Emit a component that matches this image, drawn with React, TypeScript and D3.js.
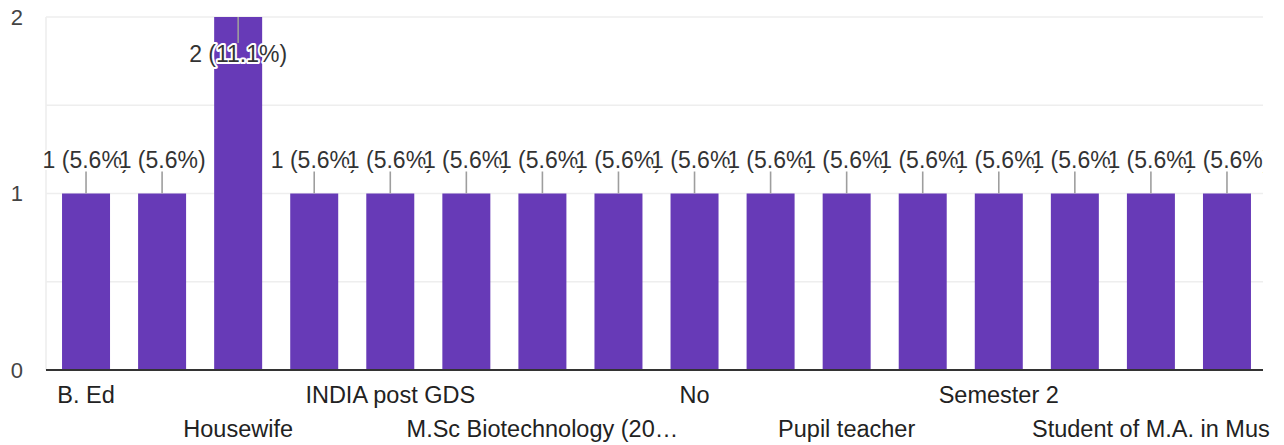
import * as d3 from 'd3'

const categories = [
  'B. Ed',
  'Graduation',
  'Housewife',
  'I am a student',
  'INDIA post GDS',
  'Job',
  'M.Sc Biotechnology (20…',
  'Nil',
  'No',
  'Private job',
  'Pupil teacher',
  'Research scholar',
  'Semester 2',
  'Student',
  'Student of M.A. in Mus',
  'Teacher',
]
const counts = [1, 1, 2, 1, 1, 1, 1, 1, 1, 1, 1, 1, 1, 1, 1, 1]
const percents = ['5.6', '5.6', '11.1', '5.6', '5.6', '5.6', '5.6', '5.6', '5.6', '5.6', '5.6', '5.6', '5.6', '5.6', '5.6', '5.6']
const yTicks = [0, 1, 2]
const gridTicks = [0.5, 1, 1.5, 2]

const width = 1284
const height = 445
const plot = { left: 46, right: 1263, top: 17, bottom: 370 }
const font = '"Liberation Sans", Arial, sans-serif'

export default function App() {
  const x = d3
    .scaleBand<string>()
    .domain(categories)
    .range([48, 1265])
    .paddingInner(0.369)
    .paddingOuter(0.1845)

  const y = d3.scaleLinear().domain([0, 2]).range([plot.bottom, plot.top])

  return (
    <svg
      width={width}
      height={height}
      style={{ position: 'absolute', left: 0, top: 0, background: '#fff' }}
      fontFamily={font}
    >
      <defs>
        <clipPath id="plot-clip">
          <rect x={0} y={0} width={plot.right} height={height} />
        </clipPath>
      </defs>

      {/* grid */}
      {gridTicks.map((t) => (
        <line
          key={t}
          x1={plot.left}
          x2={plot.right}
          y1={y(t)}
          y2={y(t)}
          stroke="#eeeeee"
          strokeWidth={1.6}
        />
      ))}
      <line x1={plot.left} x2={plot.left} y1={plot.top} y2={plot.bottom} stroke="#eeeeee" strokeWidth={1.6} />

      {/* y labels */}
      {yTicks.map((t) => (
        <text key={t} x={23} y={y(t)} dy="0.36em" textAnchor="end" fontSize={22} fill="#444">
          {t}
        </text>
      ))}

      {/* bars */}
      {categories.map((c, i) => (
        <rect
          key={c}
          x={x(c)}
          y={y(counts[i])}
          width={x.bandwidth()}
          height={y(0) - y(counts[i])}
          fill="#673ab7"
        />
      ))}

      {/* baseline */}
      <line x1={plot.left} x2={plot.right} y1={plot.bottom} y2={plot.bottom} stroke="#333" strokeWidth={2} />

      {/* value labels */}
      <g clipPath="url(#plot-clip)">
        {categories.map((c, i) => {
          const cx = (x(c) ?? 0) + x.bandwidth() / 2
          const top = y(counts[i])
          const inside = top - 45 < plot.top
          const lineEnd = inside ? top + 26 : top - 22
          const baseY = inside ? top + 45 : top - 26
          return (
            <g key={c}>
              <line x1={cx} x2={cx} y1={top} y2={lineEnd} stroke="#9e9e9e" strokeWidth={1.6} />
              <text
                x={cx}
                y={baseY}
                textAnchor="middle"
                fontSize={23}
                fill="#333"
                stroke="#fff"
                strokeWidth={4}
                strokeLinejoin="round"
                paintOrder="stroke"
              >
                {`${counts[i]} (${percents[i]}%)`}
              </text>
            </g>
          )
        })}
      </g>

      {/* x labels, every other category, staggered */}
      {categories.map((c, i) => {
        if (i % 2 !== 0) return null
        const cx = (x(c) ?? 0) + x.bandwidth() / 2
        const row = (i / 2) % 2
        return (
          <text key={c} x={cx} y={row === 0 ? 403 : 437} textAnchor="middle" fontSize={23.5} fill="#222">
            {c}
          </text>
        )
      })}
    </svg>
  )
}
